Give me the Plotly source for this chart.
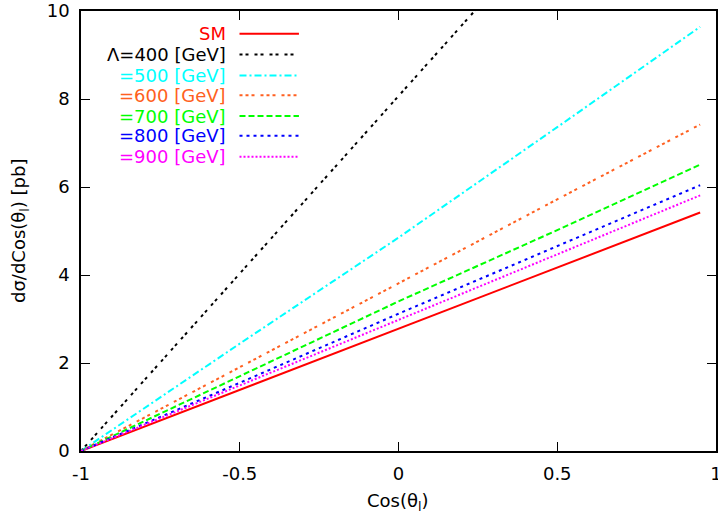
import plotly.graph_objects as go

# ---- data ----
cos_theta = [-1.0, -0.5, 0.0, 0.5, 0.95]
sm    = [0.0, 1.39, 2.78, 4.17, 5.42]
l400  = [0.0, 4.03, 8.06, 12.10, 15.70]
l500  = [0.0, 2.44, 4.85, 7.36, 9.64]
l600  = [0.0, 1.90, 3.81, 5.72, 7.42]
l700  = [0.0, 1.70, 3.40, 5.02, 6.51]
l800  = [0.0, 1.55, 3.12, 4.65, 6.04]
l900  = [0.0, 1.49, 2.99, 4.48, 5.81]

x_ticks = [-1, -0.5, 0, 0.5, 1]
x_ticktext = ["-1", "-0.5", "0", "0.5", "1"]
y_ticks = [0, 2, 4, 6, 8, 10]

labels = ["SM", "\u039b=400 [GeV]", "=500 [GeV]", "=600 [GeV]",
          "=700 [GeV]", "=800 [GeV]", "=900 [GeV]"]
series = [sm, l400, l500, l600, l700, l800, l900]
colors = ["#ff0000", "#000000", "#00ffff", "#ff6020", "#00ff00", "#0000ff", "#ff00ff"]
dashes = ["solid", "3px,3px,3px,6px", "7px,3px,2px,3px",
          "3px,3px,3px,3px,3px,6px", "6px,3px", "3px,4px", "2px,2px"]

FONT = "DejaVu Sans, Liberation Sans, Arial, sans-serif"
FS = 18

fig = go.Figure()
for lab, ys, c, d in zip(labels, series, colors, dashes):
    fig.add_trace(go.Scatter(x=cos_theta, y=ys, mode="lines", name=lab,
                             line=dict(color=c, width=2, dash=d),
                             showlegend=False, hoverinfo="skip"))

# plot area geometry (px); figure slightly wider than the window so the
# right frame falls just outside the visible area, as in the reference
L, R, T, B = 81, 0, 7, 67
W, H = 722, 518
pw = W - L - R
ph = H - T - B

def px_x(px):
    return (px - L) / pw

def px_y(py):
    return (H - B - py) / ph

rows = [30, 51, 72, 92, 113, 133, 154]
for lab, c, d, ry in zip(labels, colors, dashes, rows):
    fig.add_annotation(x=px_x(229), y=px_y(ry), xref="paper", yref="paper",
                       text=lab, showarrow=False, xanchor="right", yanchor="middle",
                       font=dict(family=FONT, size=FS, color=c))
    fig.add_shape(type="line", xref="paper", yref="paper",
                  x0=px_x(241), x1=px_x(301), y0=px_y(ry), y1=px_y(ry),
                  line=dict(color=c, width=2, dash=d))

# axis titles
fig.add_annotation(x=px_x(401), y=0, xref="paper", yref="paper", yshift=-51,
                   text="Cos(\u03b8<sub>l</sub>)", showarrow=False,
                   xanchor="center", yanchor="middle",
                   font=dict(family=FONT, size=FS, color="black"))
fig.add_annotation(x=0, y=0.5, xref="paper", yref="paper", xshift=-61,
                   text="d\u03c3/dCos(\u03b8<sub>l</sub>) [pb]", showarrow=False,
                   textangle=-90, xanchor="center", yanchor="middle",
                   font=dict(family=FONT, size=FS, color="black"))

tickfont = dict(family=FONT, size=FS, color="black")
common = dict(showgrid=False, zeroline=False, showline=True, linecolor="black",
              linewidth=1.5, mirror="ticks", ticks="inside", ticklen=9,
              tickwidth=1, tickcolor="black", tickfont=tickfont,
              ticklabelstandoff=6, ticklabeloverflow="allow")

fig.update_xaxes(range=[-1, 1], tickvals=x_ticks, ticktext=x_ticktext, **common)
fig.update_yaxes(range=[0, 10], tickvals=y_ticks, **common)

fig.update_layout(width=W, height=H, margin=dict(l=L, r=R, t=T, b=B, pad=0),
                  plot_bgcolor="white", paper_bgcolor="white",
                  font=dict(family=FONT, size=FS, color="black"))

fig.write_html("out.html", config={"displayModeBar": False},
               post_script="document.body.style.margin='0';document.body.style.overflow='hidden';")
